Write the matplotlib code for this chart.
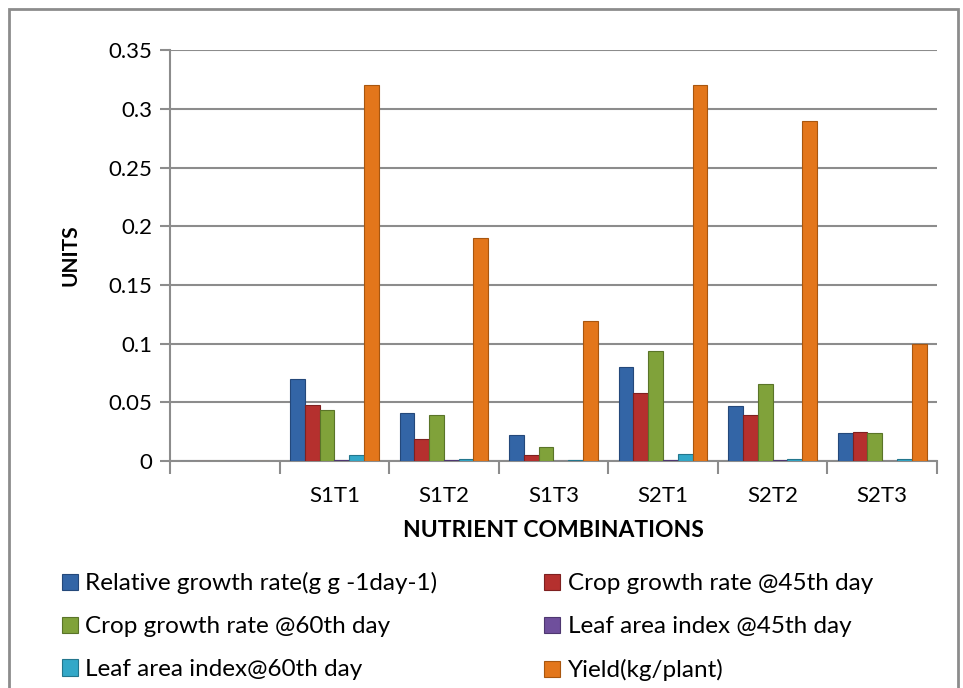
# Gráfico de barras agrupadas - combinações de nutrientes
import matplotlib.pyplot as plt
import numpy as np

plt.rcParams['font.family'] = ['Lato', 'DejaVu Sans']

# Categorias (a primeira é vazia, como no original)
categorias = ["", "S1T1", "S1T2", "S1T3", "S2T1", "S2T2", "S2T3"]

# Valores de cada série
rgr = [0, 0.070, 0.041, 0.022, 0.080, 0.047, 0.024]
cgr45 = [0, 0.048, 0.019, 0.005, 0.058, 0.039, 0.025]
cgr60 = [0, 0.043, 0.039, 0.012, 0.094, 0.066, 0.024]
lai45 = [0, 0.0004, 0.0004, 0.0003, 0.0004, 0.0004, 0.0003]
lai60 = [0, 0.005, 0.002, 0.001, 0.006, 0.002, 0.002]
yield_ = [0, 0.32, 0.19, 0.119, 0.32, 0.29, 0.10]

series = [rgr, cgr45, cgr60, lai45, lai60, yield_]
nomes = ["Relative growth rate(g g -1day-1)", "Crop growth rate @45th day",
         "Crop growth rate @60th day", "Leaf area index @45th day",
         "Leaf area index@60th day", "Yield(kg/plant)"]
cores = ["#3365A6", "#B5302E", "#80A23A", "#6F4F9C", "#33A8C8", "#E3761B"]
bordas = ["#24487A", "#7E2020", "#5A7428", "#4E3770", "#23768D", "#A8560F"]

fig = plt.figure(figsize=(9.63, 6.88), dpi=100)
ax = fig.add_axes([0.1765, 0.330, 0.7965, 0.597])

x = np.arange(len(categorias))
largura = 0.135
barras = []
for i, (vals, nome, cor, borda) in enumerate(zip(series, nomes, cores, bordas)):
    desloc = (i - 2.5) * largura
    b = ax.bar(x + desloc, vals, largura, color=cor, edgecolor=borda,
               linewidth=0.8, label=nome, zorder=3)
    barras.append(b)

ax.set_xlim(-0.5, len(categorias) - 0.5)
ax.set_ylim(0, 0.35)
ax.set_yticks(np.arange(0, 0.351, 0.05))
ax.set_yticklabels(["0", "0.05", "0.1", "0.15", "0.2", "0.25", "0.3", "0.35"])
ax.yaxis.grid(True, color="#8c8c8c", linewidth=1.5, zorder=0)

ax.set_xticks(x)
ax.set_xticklabels(categorias)
ax.set_xticks(np.arange(-0.5, len(categorias)), minor=True)
ax.tick_params(axis="x", which="major", length=0, pad=18, labelsize=16)
ax.tick_params(axis="x", which="minor", length=9, width=1.5, color="#8c8c8c")
ax.tick_params(axis="y", length=7, width=1.5, color="#8c8c8c", labelsize=16, pad=6)

for lado in ["top", "right"]:
    ax.spines[lado].set_visible(False)
for lado in ["left", "bottom"]:
    ax.spines[lado].set_color("#8c8c8c")
    ax.spines[lado].set_linewidth(1.5)

ax.set_xlabel("NUTRIENT COMBINATIONS", fontsize=16.5, fontweight="bold", labelpad=10)
ax.set_ylabel("UNITS", fontsize=15, fontweight="bold", labelpad=20)

# legenda preenchida por linhas (2 colunas)
ordem = [0, 2, 4, 1, 3, 5]
fig.legend([barras[k] for k in ordem], [nomes[k] for k in ordem],
           loc="upper left", bbox_to_anchor=(0.042, 0.2), ncol=2,
           frameon=False, fontsize=17.5, handlelength=0.65, handleheight=0.65,
           handletextpad=0.3, columnspacing=4.4, labelspacing=0.9)

# Moldura do gráfico
moldura = plt.Rectangle((0.0095, -0.01), 0.985, 0.997, transform=fig.transFigure,
                        fill=False, edgecolor="#8c8c8c", linewidth=2)
fig.patches.append(moldura)

fig.savefig("out.png", dpi=100)
